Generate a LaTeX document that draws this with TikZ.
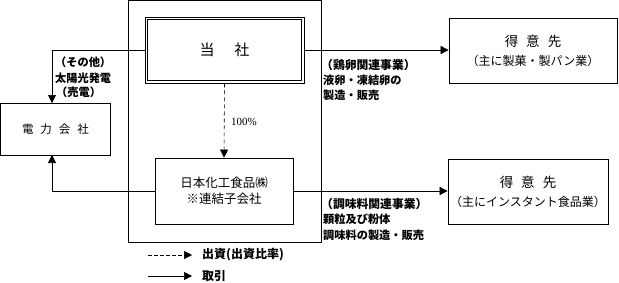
\documentclass[tikz,border=0pt]{standalone}
\usepackage{fontspec}
\setmainfont{Noto Sans CJK JP}
\newfontfamily\lat{Liberation Serif}
\usetikzlibrary{arrows.meta}
\tikzset{
  x=1pt,y=-1pt,
  box/.style={draw,line width=0.7pt,minimum width=#1,inner sep=0pt,align=center},
  conn/.style={line width=0.6pt,-{Triangle[length=8pt,width=8pt]}},
  dconn/.style={conn,dash pattern=on 4pt off 3pt},
  lbl/.style={anchor=west,inner sep=0pt,font=\bfseries\fontsize{11.2}{13}\selectfont},
  hlbl/.style={anchor=west,inner sep=0pt,font=\bfseries\fontsize{11.8}{13}\selectfont},
}
\begin{document}
\begin{tikzpicture}
\useasboundingbox (0,0) rectangle (619,282);
% frame
\draw[line width=0.6pt] (128,0.5) rectangle (321,242);
% boxes
\node[box=159pt,minimum height=66pt,line width=0.6pt,font=\fontsize{15}{17}\selectfont] (tousha) at (224.5,50) {当\hspace{20pt}社};
\draw[line width=0.6pt] ([shift={(3,3)}]tousha.north west) rectangle ([shift={(-3,-3)}]tousha.south east);
\node[box=110pt,minimum height=52pt,font=\fontsize{11.5}{13}\selectfont] (denryoku) at (55.5,129) {電\hspace{7pt}力\hspace{7pt}会\hspace{7pt}社};
\node[box=138pt,minimum height=66pt,font=\fontsize{12.5}{16}\selectfont] (nihon) at (224,191) {日本化工食品㈱\\※連結子会社};
\node[box=168pt,minimum height=65pt,font=\fontsize{12}{19}\selectfont] (cust1) at (533,50.5) {{\fontsize{13.5}{19}\selectfont 得\hspace{8pt}意\hspace{8pt}先}\\（主に製菓・製パン業）};
\node[box=160pt,minimum height=65pt,font=\fontsize{12}{19}\selectfont] (cust2) at (528,191.5) {{\fontsize{13.5}{19}\selectfont 得\hspace{8pt}意\hspace{8pt}先}\\（主にインスタント食品業）};
% connectors
\coordinate (dtop) at (52,103);
\coordinate (dbot) at (52,155);
\draw[conn] (tousha.west) -| (dtop);
\draw[conn] (nihon.west) -| (dbot);
\draw[conn] (tousha.east) -- (tousha.east -| cust1.west);
\draw[conn] (nihon.east) -- (nihon.east -| cust2.west);
\draw[dconn] (tousha.south) -- (nihon.north);
\node[anchor=west,inner sep=0pt,font=\lat\fontsize{11}{13}\selectfont] (pct) at (231,122) {100\%};
% labels
\node[lbl] (l1) at (55,62) {（その他）};
\node[lbl] (l2) at (55,78) {太陽光発電};
\node[lbl] (l3) at (56,92) {（売電）};
\node[hlbl] (r1) at (321,65) {（鶏卵関連事業）};
\node[lbl] (r2) at (323,80) {液卵・凍結卵の};
\node[lbl] (r3) at (323,95) {製造・販売};
\node[hlbl] (s1) at (321,204) {（調味料関連事業）};
\node[lbl] (s2) at (323,219) {顆粒及び粉体};
\node[lbl] (s3) at (323,235) {調味料の製造・販売};
% legend
\coordinate (la1) at (148,255);
\coordinate (la2) at (192,255);
\coordinate (lb1) at (148,276);
\coordinate (lb2) at (192,276);
\draw[conn,dash pattern=on 3.5pt off 2.5pt] (la1) -- (la2);
\draw[conn] (lb1) -- (lb2);
\node[lbl,font=\bfseries\fontsize{12}{14}\selectfont] (lg1) at (202,255) {出資(出資比率)};
\node[lbl,font=\bfseries\fontsize{12}{14}\selectfont] (lg2) at (202,276) {取引};
\end{tikzpicture}
\end{document}
